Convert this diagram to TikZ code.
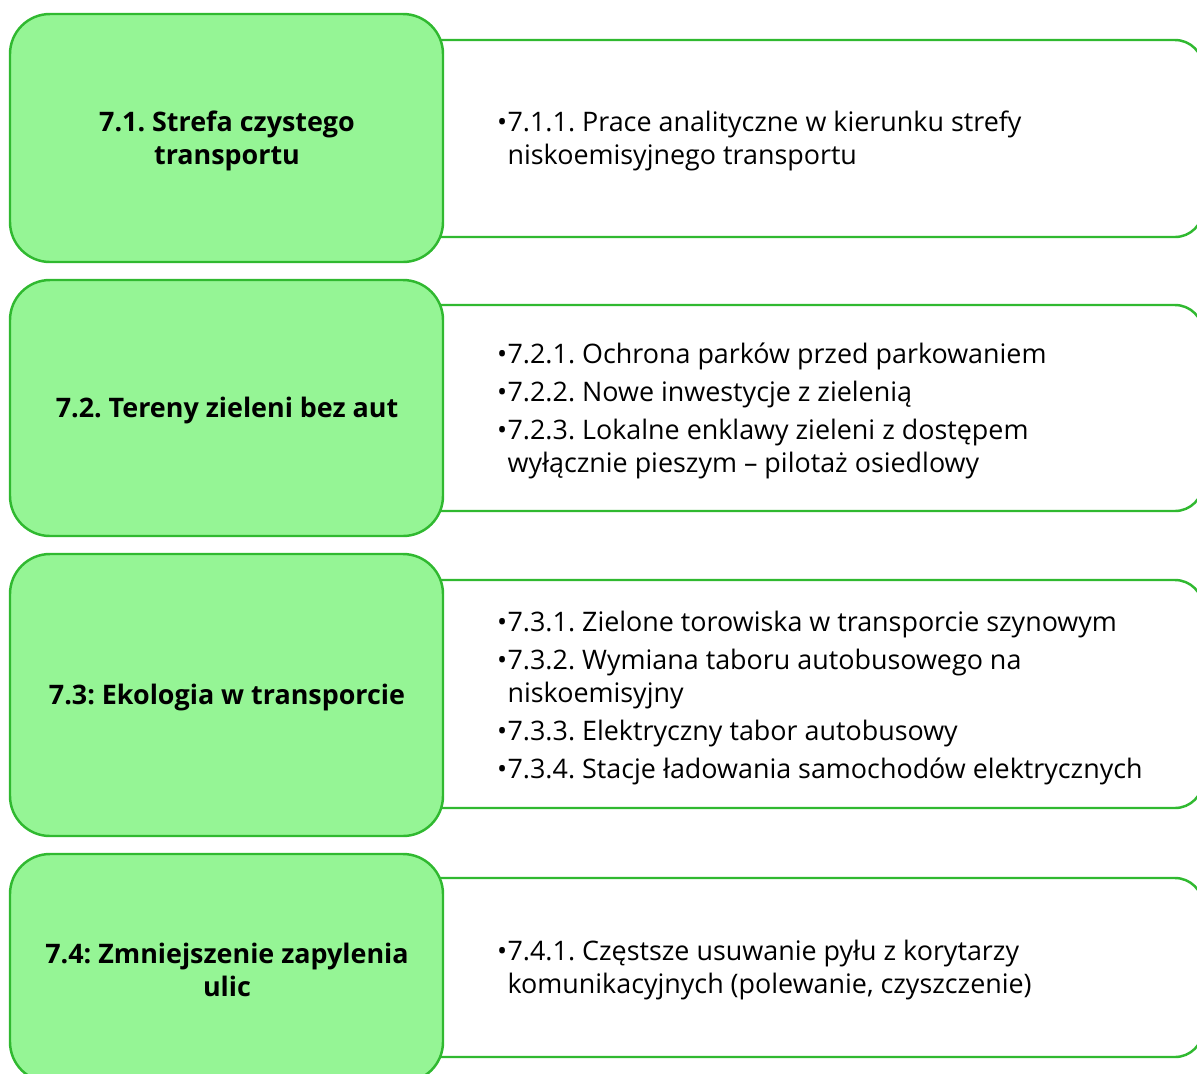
\documentclass[tikz,border=0pt]{standalone}
\usepackage{fontspec}
\setmainfont{Open Sans}
\usepackage{tikz}
\frenchspacing

\definecolor{leaf}{RGB}{149,245,149}
\definecolor{leafline}{RGB}{48,185,48}
\newcommand{\bl}{\makebox[5.9pt][l]{•}}
\newcommand{\ind}{\hspace*{5.9pt}}

\begin{document}
\begin{tikzpicture}[x=0.02cm, y=-0.02cm, line width=1.4pt,
	grn/.style={draw=leafline, fill=leaf, rounded corners=0.8cm},
	wht/.style={draw=leafline, fill=white, rounded corners=0.56cm},
	hd/.style={align=center, inner sep=0pt, font=\bfseries\fontsize{15.3}{18.7}\selectfont},
	lst/.style={anchor=west, align=left, inner sep=0pt, font=\fontsize{15.3}{18.7}\selectfont}]
		\useasboundingbox (0,0) rectangle (1197,1073);
		\clip (0,0) rectangle (1197,1073);
		
		% right hand lists
		\draw[wht] (400, 40) rectangle (1203, 237);
		\draw[wht] (400, 305) rectangle (1203, 511);
		\draw[wht] (400, 580) rectangle (1203, 808);
		\draw[wht] (400, 878) rectangle (1203, 1057);
		
		% left hand headings
		\draw[grn] (10, 14) rectangle (443, 262);
		\draw[grn] (10, 280) rectangle (443, 536);
		\draw[grn] (10, 554) rectangle (443, 836);
		\draw[grn] (10, 854) rectangle (443, 1082);
		
		\node[hd] (h1) at (227, 141) {7.1. Strefa czystego\\transportu};
		\node[hd] (h2) at (227, 411) {7.2. Tereny zieleni bez aut};
		\node[hd] (h3) at (227, 698) {7.3: Ekologia w transporcie};
		\node[hd] (h4) at (227, 970) {7.4: Zmniejszenie zapylenia\\ulic};
		
		\node[lst] (l1) at (496, 141) {\bl7.1.1. Prace analityczne w kierunku strefy\\
			\ind niskoemisyjnego transportu};
		\node[lst] (l2) at (496, 411) {\bl7.2.1. Ochrona parków przed parkowaniem\\[3pt]
			\bl7.2.2. Nowe inwestycje z zielenią\\[3pt]
			\bl7.2.3. Lokalne enklawy zieleni z dostępem\\
			\ind wyłącznie pieszym – pilotaż osiedlowy};
		\node[lst] (l3) at (496, 698) {\bl7.3.1. Zielone torowiska w transporcie szynowym\\[3pt]
			\bl7.3.2. Wymiana taboru autobusowego na\\
			\ind niskoemisyjny\\[3pt]
			\bl7.3.3. Elektryczny tabor autobusowy\\[3pt]
			\bl7.3.4. Stacje ładowania samochodów elektrycznych};
		\node[lst] (l4) at (496, 970) {\bl7.4.1. Częstsze usuwanie pyłu z korytarzy\\
			\ind komunikacyjnych (polewanie, czyszczenie)};
	\end{tikzpicture}
\end{document}
